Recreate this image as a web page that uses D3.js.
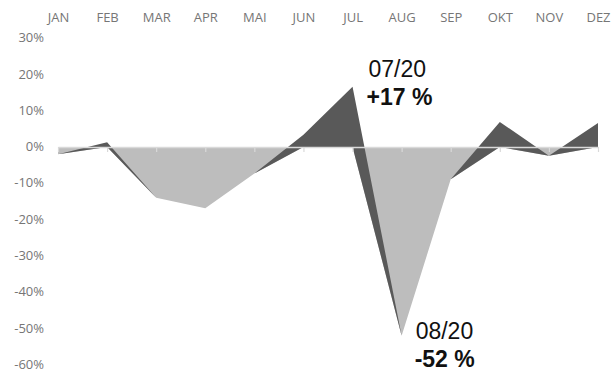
<!DOCTYPE html>
<html>
<head>
<meta charset="utf-8">
<script src="https://cdn.jsdelivr.net/npm/d3@7"></script>
<style>
  body { margin: 0; background: #fff; }
  .axis text { font-family: "Open Sans", sans-serif; font-size: 13px; fill: #767676; }
  .note { font-family: "Liberation Sans", Arial, sans-serif; font-size: 23px; fill: #111; }
</style>
</head>
<body>
<div class="chart"></div>
<script>
// monthly change in %, split in a negative and a positive series (stacked areas)
var months = ["JAN", "FEB", "MAR", "APR", "MAI", "JUN", "JUL", "AUG", "SEP", "OKT", "NOV", "DEZ"];
var negative = [-2.0, 0, -14.0, -16.9, -7.3, 0, 0, -52.0, -8.9, 0, -2.4, 0];
var positive = [0, 1.3, 0, 0, 0, 3.4, 16.6, 0, 0, 6.9, 0, 6.6];
var yTicks = [30, 20, 10, 0, -10, -20, -30, -40, -50, -60];

// callouts for the two extremes
var noteMonths = ["JUL", "AUG"];
var noteDates = ["07/20", "08/20"];
var noteValues = ["+17 %", "-52 %"];

var svgWidth = 615;
var svgHeight = 371;

var svg = d3.select(".chart")
  .append("svg")
  .attr("width", svgWidth)
  .attr("height", svgHeight);

var xScale = d3.scalePoint()
  .domain(months)
  .range([58, 598]);

var yScale = d3.scaleLinear()
  .domain([-60, 30])
  .range([364.8, 38.1]);

// build rows for d3.stack
var rows = months.map(function(m, i) {
  return { month: m, negative: negative[i], positive: positive[i] };
});

var stacked = d3.stack()
  .keys(["negative", "positive"])
  .offset(d3.stackOffsetNone)(rows);

var colors = { negative: "#bdbdbd", positive: "#595959" };

var area = d3.area()
  .x(d => xScale(d.data.month))
  .y0(d => yScale(d[0]))
  .y1(d => yScale(d[1]));

svg.selectAll(".area")
  .data(stacked)
  .enter()
  .append("path")
  .attr("class", "area")
  .attr("d", area)
  .attr("fill", d => colors[d.key]);

// zero line with category ticks
var zeroAxis = svg.append("g")
  .attr("transform", `translate(0, ${yScale(0)})`)
  .call(d3.axisBottom(xScale).tickSize(5).tickSizeOuter(0).tickFormat(""));
zeroAxis.select(".domain").attr("stroke", "#d9d9d9").attr("stroke-width", 1.5);
zeroAxis.selectAll(".tick line").attr("stroke", "#d9d9d9").attr("stroke-width", 1.2);

// month labels on top
var topAxis = svg.append("g")
  .attr("class", "axis")
  .attr("transform", "translate(0, 26)")
  .call(d3.axisTop(xScale).tickSize(0).tickPadding(4));
topAxis.select(".domain").remove();

// percent labels on the left
var leftAxis = svg.append("g")
  .attr("class", "axis")
  .attr("transform", "translate(45, 0)")
  .call(d3.axisLeft(yScale).tickValues(yTicks).tickSize(0).tickPadding(1).tickFormat(d => d + "%"));
leftAxis.select(".domain").remove();
leftAxis.selectAll("text").attr("dy", "0.28em");

// annotations
noteMonths.forEach(function(m, i) {
  var idx = months.indexOf(m);
  var v = negative[idx] + positive[idx];
  var px = xScale(m);
  var py = yScale(v);
  var dy = v > 0 ? -10 : 3;
  svg.append("text")
    .attr("class", "note")
    .attr("x", px + (v > 0 ? 16 : 14))
    .attr("y", py + dy)
    .text(noteDates[i]);
  svg.append("text")
    .attr("class", "note")
    .attr("font-weight", "bold")
    .attr("x", px + (v > 0 ? 14 : 13))
    .attr("y", py + dy + 28.5)
    .text(noteValues[i]);
});
</script>
</body>
</html>
